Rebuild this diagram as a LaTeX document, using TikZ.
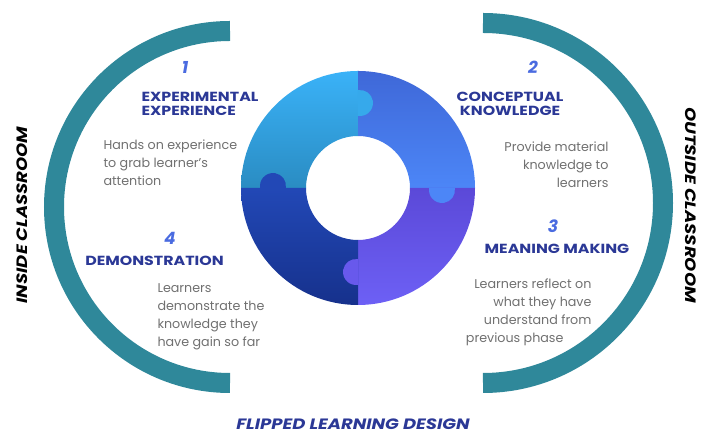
\documentclass[tikz,border=0pt]{standalone}
\usepackage{fontspec}
\setmainfont{Poppins}
\newfontfamily\widefont[FakeStretch=1.2]{Poppins}
\definecolor{teal}{HTML}{2F889A}
\definecolor{navy}{HTML}{2B3896}
\definecolor{numblue}{HTML}{4A6BE0}
\definecolor{bodygray}{HTML}{707070}
\definecolor{tla}{HTML}{3AB2F8}
\definecolor{tlb}{HTML}{2A8CC2}
\definecolor{tra}{HTML}{3F68D8}
\definecolor{trb}{HTML}{4C86F7}
\definecolor{bra}{HTML}{5B49D8}
\definecolor{brb}{HTML}{6D60F5}
\definecolor{bla}{HTML}{2248B6}
\definecolor{blb}{HTML}{16318C}
\tikzset{
  num/.style={font=\fontsize{17}{17}\selectfont\bfseries\itshape, text=numblue},
  head/.style={font=\widefont\fontsize{13.2}{14}\selectfont\bfseries, text=navy},
  body/.style={font=\fontsize{12.7}{18}\selectfont, text=bodygray},
  side/.style={font=\widefont\fontsize{15}{15}\selectfont\bfseries\itshape, text=black},
  arcband/.style={draw=teal, line width=20pt}
}
\begin{document}
\begin{tikzpicture}[x=1pt, y=1pt]
\useasboundingbox (0,0) rectangle (710,435);

\draw[arcband] (230,404) arc[start angle=90, end angle=270, radius=176];
\draw[arcband] (483,412) arc[start angle=90, end angle=-90, radius=180];

\coordinate (c) at (358,247);
\begin{scope}[shift={(c)}]
\foreach \a/\ca/\cb in {90/tla/tlb, 0/tra/trb, 270/bra/brb, 180/bla/blb}
  \shade[top color=\ca, bottom color=\cb] (\a:117) arc[start angle=\a, end angle=\a+90, radius=117]
    -- (\a+90:52) arc[start angle=\a+90, end angle=\a, radius=52] -- cycle;
\end{scope}
\fill[tla!75!tlb] (360,332) ++(99:13) arc[start angle=99, end angle=-99, radius=13] -- cycle;
\fill[trb] (442,245) ++(9:13) arc[start angle=9, end angle=-189, radius=13] -- cycle;
\fill[brb!70!bra] (356,163) ++(81:13) arc[start angle=81, end angle=279, radius=13] -- cycle;
\fill[bla] (273,249) ++(-9:13) arc[start angle=-9, end angle=189, radius=13] -- cycle;

\node[num] (n1) at (185,368) {1};
\node[head, anchor=west, align=left] (h1) at (138,331) {EXPERIMENTAL\\EXPERIENCE};
\node[body, anchor=west, align=left] (b1) at (100,272) {Hands on experience\\to grab learner's\\attention};

\node[num] (n2) at (533,368) {2};
\node[head, align=center] (h2) at (510,331) {CONCEPTUAL\\KNOWLEDGE};
\node[body, anchor=east, align=right] (b2) at (612,270) {Provide material\\knowledge to\\learners};

\node[num] (n3) at (553,209) {3};
\node[head] (h3) at (557,186) {MEANING MAKING};
\node[body, anchor=east, align=right] (b3) at (595,123) {Learners reflect on\\what they have\\understand from\\previous phase\hspace*{28pt}};

\node[num] (n4) at (170,197) {4};
\node[head] (h4) at (154.5,174) {DEMONSTRATION};
\node[body, anchor=west, align=left] (b4) at (154,118.5) {Learners\\demonstrate the\\knowledge they\\have gain so far};

\node[side, rotate=90] (inside) at (22,220) {INSIDE CLASSROOM};
\node[side, rotate=-90] (outside) at (691,230) {OUTSIDE CLASSROOM};
\node[side, text=navy, inner sep=0pt] (title) at (353,11) {FLIPPED LEARNING DESIGN};

\end{tikzpicture}
\end{document}
